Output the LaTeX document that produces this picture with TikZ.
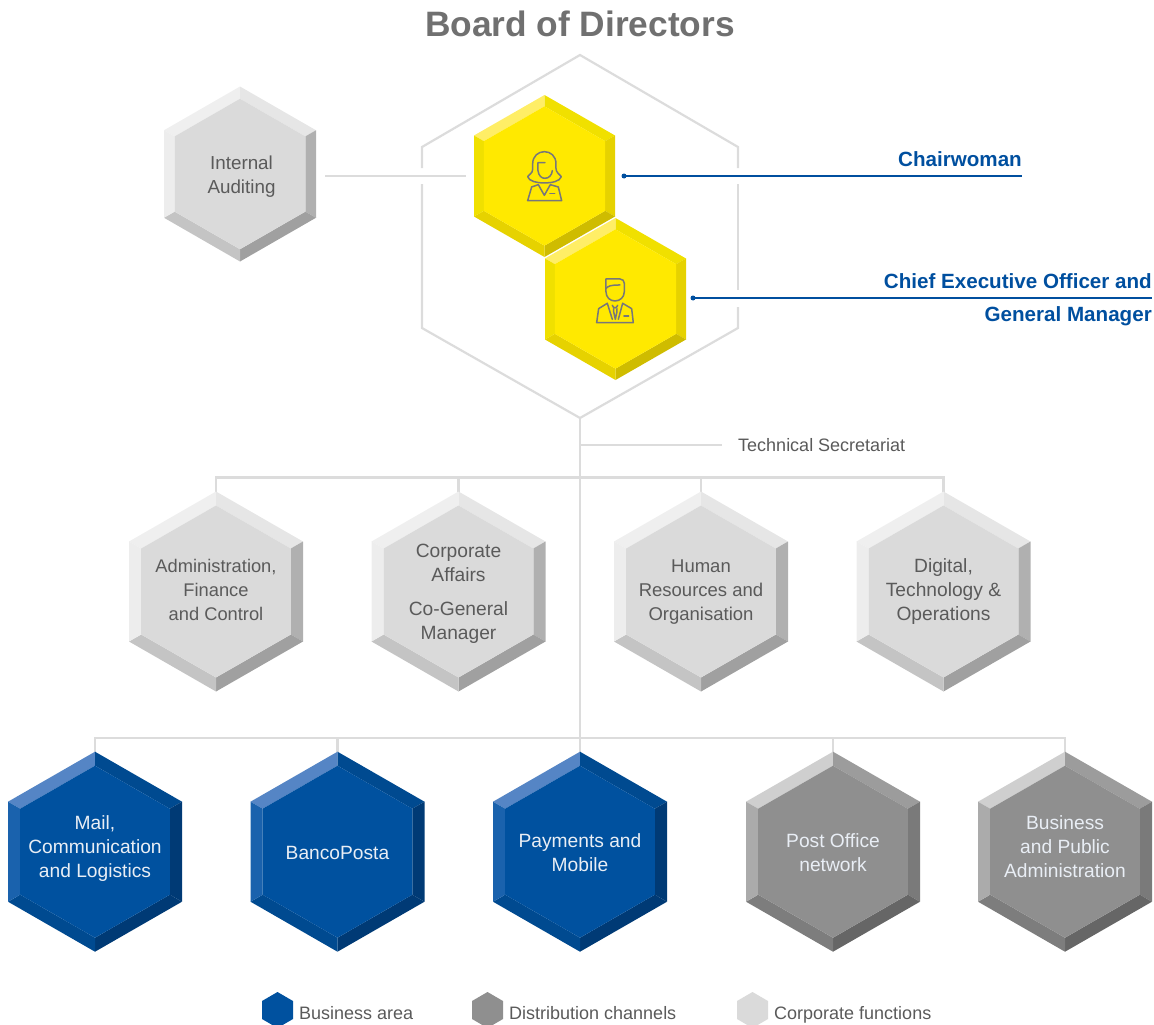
\documentclass[tikz,border=0pt]{standalone}
\usepackage{fontspec}
\setmainfont{Liberation Sans}
\usetikzlibrary{backgrounds}
\definecolor{yC}{HTML}{FFE900}\definecolor{yTL}{HTML}{FFEE66}\definecolor{yTR}{HTML}{F0E000}\definecolor{yR}{HTML}{E6D200}\definecolor{yBR}{HTML}{CFBC00}\definecolor{yBL}{HTML}{E6D200}\definecolor{yL}{HTML}{F0E000}
\definecolor{bC}{HTML}{00519F}\definecolor{bTL}{HTML}{5585C5}\definecolor{bTR}{HTML}{004A90}\definecolor{bR}{HTML}{003A75}\definecolor{bBR}{HTML}{003A75}\definecolor{bBL}{HTML}{004A90}\definecolor{bL}{HTML}{1A62AD}
\definecolor{lC}{HTML}{DADADA}\definecolor{lTL}{HTML}{EFEFEF}\definecolor{lTR}{HTML}{E6E6E6}\definecolor{lR}{HTML}{B0B0B0}\definecolor{lBR}{HTML}{A0A0A0}\definecolor{lBL}{HTML}{C4C4C4}\definecolor{lL}{HTML}{EDEDED}
\definecolor{dC}{HTML}{8F8F8F}\definecolor{dTL}{HTML}{CFCFCF}\definecolor{dTR}{HTML}{9C9C9C}\definecolor{dR}{HTML}{7A7A7A}\definecolor{dBR}{HTML}{666666}\definecolor{dBL}{HTML}{7D7D7D}\definecolor{dL}{HTML}{ABABAB}
\definecolor{linkgrey}{HTML}{DCDCDC}
\definecolor{postblue}{HTML}{004F9F}
\definecolor{icongrey}{HTML}{77777A}
\definecolor{txt}{HTML}{5A5A5A}
\definecolor{txtw}{HTML}{E9EEF5}
% name, cx, cy, half width, half height, palette
\newcommand{\bevelhex}[6]{%
\begin{scope}[shift={(#2,#3)},x=#4pt,y=-#5pt]
\coordinate (#1-t) at (0,-1);
\coordinate (#1-b) at (0,1);
\fill[#6TL] (-1,-.5)--(0,-1)--(0,-.86)--(-.86,-.43)--cycle;
\fill[#6TR] (0,-1)--(1,-.5)--(.86,-.43)--(0,-.86)--cycle;
\fill[#6R] (1,-.5)--(1,.5)--(.86,.43)--(.86,-.43)--cycle;
\fill[#6BR] (1,.5)--(0,1)--(0,.86)--(.86,.43)--cycle;
\fill[#6BL] (0,1)--(-1,.5)--(-.86,.43)--(0,.86)--cycle;
\fill[#6L] (-1,.5)--(-1,-.5)--(-.86,-.43)--(-.86,.43)--cycle;
\fill[#6C] (0,-.86)--(.86,-.43)--(.86,.43)--(0,.86)--(-.86,.43)--(-.86,-.43)--cycle;
\end{scope}}
\newcommand{\flathex}[3]{%
\begin{scope}[shift={(#1,#2)},x=15.5pt,y=-18pt]
\fill[#3] (0,-1)--(1,-.5)--(1,.5)--(0,1)--(-1,.5)--(-1,-.5)--cycle;
\end{scope}}
\tikzset{
  x=1pt,y=-1pt,
  conn/.style={draw=linkgrey,line width=2.2pt,line join=miter},
  leader/.style={draw=postblue,line width=1.1pt},
  dotend/.style={circle,fill=postblue,inner sep=0pt,minimum size=5pt},
  hexlabel/.style={font=\fontsize{19.2}{24}\selectfont,align=center,text=txt,inner sep=0pt},
  hexlabelw/.style={hexlabel,text=txtw},
  rolelabel/.style={font=\fontsize{20.6}{33}\selectfont\bfseries,align=right,text=postblue,inner sep=0pt,anchor=east},
  legendlabel/.style={font=\fontsize{18}{22}\selectfont,text=txt,inner sep=0pt,anchor=base west},
  icon/.style={shift={(400,40)},x=.3333pt,y=-.3333pt,draw=icongrey,line width=1.5pt,line join=round,line cap=round}
}
\begin{document}
\begin{tikzpicture}
\useasboundingbox (0,0) rectangle (1154,1025);
\clip (0,0) rectangle (1154,1025);
\node[font=\fontsize{35.3}{40}\selectfont\bfseries,text=black!56,inner sep=0pt] (title) at (580,24) {Board of Directors};
% board outline
\coordinate (board-t) at (580,55);
\coordinate (board-b) at (580,418);
\draw[conn] (422,168)--(422,147)--(board-t)--(738,147)--(738,168);
\draw[conn] (738,184)--(738,290);
\draw[conn] (738,307)--(738,328)--(board-b)--(422,328)--(422,184);
% hexagons
\bevelhex{audit}{240}{174}{76}{87.5}{l}
\node[hexlabel,font=\fontsize{18.8}{24}\selectfont] (auditT) at (241.5,177) {Internal\\Auditing};
\bevelhex{chair}{544.5}{176}{70.5}{81}{y}
\bevelhex{ceo}{615.5}{299}{70.5}{81}{y}
% row 1
\bevelhex{adm}{216}{591.5}{87}{100}{l}
\node[hexlabel,font=\fontsize{18.3}{24}\selectfont] (admT) at (216,589.5) {Administration,\\Finance\\and Control};
\bevelhex{corp}{458.5}{591.5}{87}{100}{l}
\node[hexlabel] (corpT) at (458.5,594) {Corporate\\Affairs\\[10pt]Co-General\\Manager};
\bevelhex{hr}{701}{591.5}{87}{100}{l}
\node[hexlabel,font=\fontsize{18.5}{24}\selectfont] (hrT) at (701,592.5) {Human\\Resources and\\Organisation};
\bevelhex{dig}{943.5}{591.5}{87}{100}{l}
\node[hexlabel] (digT) at (943.5,591.5) {Digital,\\Technology \&\\Operations};
% row 2
\bevelhex{mail}{95}{851.7}{87}{100}{b}
\node[hexlabelw] (mailT) at (95,848.5) {Mail,\\Communication\\and Logistics};
\bevelhex{banco}{337.5}{851.7}{87}{100}{b}
\node[hexlabelw] (bancoT) at (337.5,853) {BancoPosta};
\bevelhex{pay}{580}{851.7}{87}{100}{b}
\node[hexlabelw] (payT) at (580,852.5) {Payments and\\Mobile};
\bevelhex{post}{833}{851.7}{87}{100}{d}
\node[hexlabelw] (postT) at (833,852.5) {Post Office\\network};
\bevelhex{biz}{1065}{851.7}{87}{100}{d}
\node[hexlabelw] (bizT) at (1065,846.5) {Business\\and Public\\Administration};
% icons
\draw[icon] (398,388)--(398,372) .. controls (398,348) and (415,335) .. (433,335) .. controls (452,335) and (468,348) .. (468,372)--(468,385) .. controls (468,398) and (478,402) .. (484,410) .. controls (480,424) and (455,429) .. (433,429) .. controls (411,429) and (387,424) .. (383,410) .. controls (388,402) and (398,400) .. (398,388);
\draw[icon] (435,368)--(414,368)--(414,392) .. controls (416,408) and (425,415) .. (435,415) .. controls (447,415) and (456,405) .. (457,392);
\draw[icon] (415,434)--(395,441)--(383,482)--(485,482)--(475,441)--(451,434)--(433,466)--cycle;
\draw[icon] (450,461)--(464,461);
\draw[icon] (618,717)--(660,717) .. controls (668,717) and (673,723) .. (673,730)--(673,755) .. controls (673,772) and (660,783) .. (645,783) .. controls (630,783) and (618,772) .. (618,755)--cycle;
\draw[icon] (618,746) .. controls (624,738) and (632,735) .. (660,735);
\draw[icon] (622,790)--(596,806)--(590,848)--(700,848)--(695,806)--(668,790);
\draw[icon] (622,790)--(637,838);
\draw[icon] (668,790)--(655,838);
\draw[icon] (637,796) .. controls (640,806) and (650,806) .. (653,796);
\draw[icon] (641,806)--(641,815)--(646,838)--(651,815)--(651,806);
\draw[icon] (672,828)--(686,828);
% role labels
\node[rolelabel] (chairL) at (1022,159) {Chairwoman};
\node[rolelabel] (ceoL) at (1152,300) {Chief Executive Officer and\\General Manager};
\node[dotend] (chairDot) at (624,176) {};
\coordinate (chairEnd) at (1022,176);
\draw[leader] (chairDot.center)--(chairEnd);
\node[dotend] (ceoDot) at (693,298) {};
\coordinate (ceoEnd) at (1152,298);
\draw[leader] (ceoDot.center)--(ceoEnd);
% tech sec
\node[font=\fontsize{18}{22}\selectfont,text=txt,inner ysep=0pt,inner xsep=16pt,anchor=west] (tech) at (722,445) {Technical Secretariat};
% audit link
\coordinate (auditOut) at (325,176);
\coordinate (boardIn) at (466,176);
\draw[conn] (auditOut)--(boardIn);
\begin{scope}[on background layer]
\coordinate (bus1) at (580,477.5);
\coordinate (bus2) at (580,738);
\draw[conn] (board-b)--(pay-t);
\draw[conn] (board-b|-tech.west)--(tech.west);
\draw[conn] (adm-t)--(adm-t|-bus1)--(dig-t|-bus1)--(dig-t);
\draw[conn] (corp-t)--(corp-t|-bus1);
\draw[conn] (hr-t)--(hr-t|-bus1);
\draw[conn] (mail-t)--(mail-t|-bus2)--(biz-t|-bus2)--(biz-t);
\draw[conn] (banco-t)--(banco-t|-bus2);
\draw[conn] (post-t)--(post-t|-bus2);
\end{scope}
% legend
\flathex{277.5}{1010}{bC}
\node[legendlabel] (lg1) at (299,1019) {Business area};
\flathex{487.5}{1010}{dC}
\node[legendlabel] (lg2) at (509,1019) {Distribution channels};
\flathex{752.5}{1010}{lC}
\node[legendlabel] (lg3) at (774,1019) {Corporate functions};
\end{tikzpicture}
\end{document}
